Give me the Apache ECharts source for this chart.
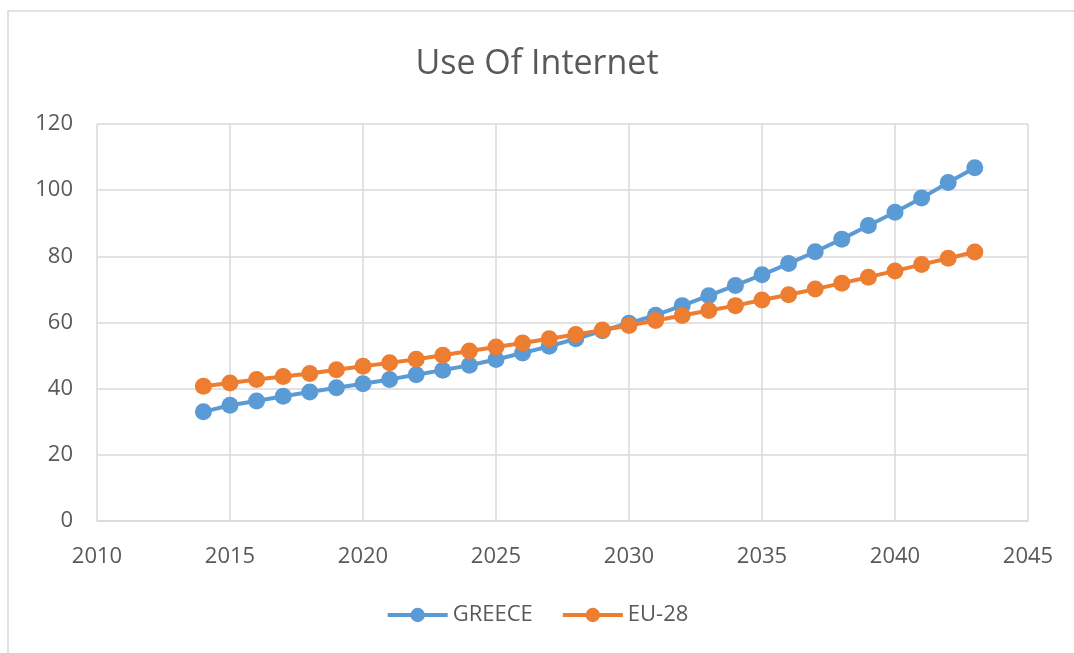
<!DOCTYPE html>
<html>
<head>
<meta charset="utf-8">
<script src="https://cdn.jsdelivr.net/npm/echarts@6/dist/echarts.min.js"></script>
<style>
  html, body { margin: 0; padding: 0; background: #fff; }
  #chart { width: 1074px; height: 653px; }
</style>
</head>
<body>
<div id="chart"></div>
<script>
// 年份与数据
const years = [2014, 2015, 2016, 2017, 2018, 2019, 2020, 2021, 2022, 2023,
  2024, 2025, 2026, 2027, 2028, 2029, 2030, 2031, 2032, 2033,
  2034, 2035, 2036, 2037, 2038, 2039, 2040, 2041, 2042, 2043];
const greece = [33, 35, 36.3, 37.7, 39, 40.3, 41.5, 42.8, 44.2, 45.6,
  47.1, 48.8, 50.8, 52.8, 55.1, 57.5, 59.8, 62.2, 65.1, 68.1,
  71.2, 74.4, 77.8, 81.4, 85.2, 89.3, 93.3, 97.6, 102.3, 106.8];
const eu28 = [40.7, 41.7, 42.8, 43.7, 44.6, 45.7, 46.8, 47.8, 48.9, 50.1,
  51.4, 52.6, 53.8, 55.1, 56.4, 57.7, 59.1, 60.6, 62.1, 63.6,
  65.1, 66.8, 68.4, 70.1, 71.9, 73.7, 75.6, 77.5, 79.4, 81.3];
const seriesNames = ['GREECE', 'EU-28'];

const chart = echarts.init(document.getElementById('chart'));
const font = '"Open Sans", "Noto Sans", sans-serif';
const textColor = '#595959';
const gridColor = '#d9d9d9';

const toPairs = (vals) => years.map((y, i) => [y, vals[i]]);

chart.setOption({
  animation: false,
  textStyle: { fontFamily: font },
  graphic: [{
    type: 'rect',
    shape: { x: 8, y: 11, width: 1080, height: 660 },
    style: { fill: 'none', stroke: '#d9d9d9', lineWidth: 1.5 },
    silent: true
  }],
  title: {
    text: 'Use Of Internet',
    left: 'center',
    top: 42,
    textStyle: { color: textColor, fontSize: 34, fontWeight: 'normal', fontFamily: font }
  },
  legend: {
    bottom: 22,
    left: 'center',
    itemWidth: 60,
    itemHeight: 18,
    itemGap: 28,
    lineStyle: { width: 4 },
    textStyle: { color: textColor, fontSize: 22, fontFamily: font },
    data: seriesNames
  },
  grid: { left: 97, right: 46, top: 124, bottom: 132 },
  xAxis: {
    type: 'value',
    min: 2010,
    max: 2045,
    interval: 5,
    axisLine: { show: true, lineStyle: { color: gridColor, width: 1.5 } },
    axisTick: { show: false },
    axisLabel: { color: textColor, fontSize: 22, margin: 25, formatter: (v) => String(v) },
    splitLine: { show: true, lineStyle: { color: gridColor, width: 1.5 } }
  },
  yAxis: {
    type: 'value',
    min: 0,
    max: 120,
    interval: 20,
    axisLine: { show: false },
    axisTick: { show: false },
    axisLabel: { color: textColor, fontSize: 22, margin: 24 },
    splitLine: { show: true, lineStyle: { color: gridColor, width: 1.5 } }
  },
  series: [
    {
      name: seriesNames[0],
      type: 'line',
      data: toPairs(greece),
      symbol: 'circle',
      symbolSize: 17,
      itemStyle: { color: '#5B9BD5' },
      lineStyle: { color: '#5B9BD5', width: 4 }
    },
    {
      name: seriesNames[1],
      type: 'line',
      data: toPairs(eu28),
      symbol: 'circle',
      symbolSize: 17,
      itemStyle: { color: '#ED7D31' },
      lineStyle: { color: '#ED7D31', width: 4 }
    }
  ]
});
</script>
</body>
</html>
